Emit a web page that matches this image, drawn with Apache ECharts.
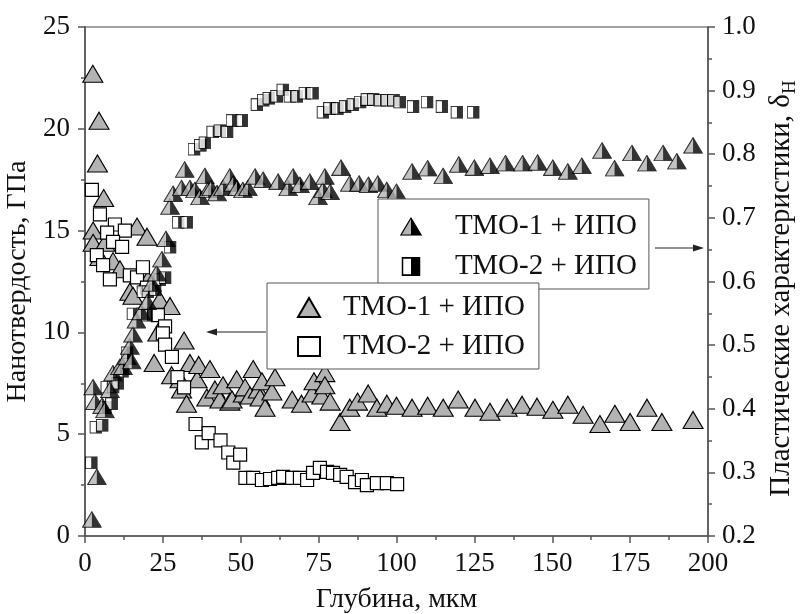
<!DOCTYPE html>
<html>
<head>
<meta charset="utf-8">
<script src="https://cdn.jsdelivr.net/npm/echarts@6/dist/echarts.min.js"></script>
<style>html,body{margin:0;padding:0;background:#fff}#c{width:803px;height:614px}</style>
</head>
<body>
<div id="c"></div>
<script>
// ---- Data ----
// Nanohardness, GPa (left axis) — ТМО-1 + ИПО (grey triangles)
const h1X = [2.5,4.5,4,6,2.6,2.6,6.4,4.8,9,11.2,14.4,15.4,16.7,19.9,20.2,24,27.3,23.4,22.2,31.8,27.8,30.5,31,32.6,33.7,36,36.5,39.1,40.1,41.7,43.3,44.3,46.5,47.2,48.7,50.8,51.4,53,54,55.6,56.2,56.8,57.8,60,61,66.5,69.5,72.9,73.5,76,77,77,78.7,81.9,85,87.5,90.9,93.7,96.9,100,105,110,115,119.8,125.2,130,135.5,140.3,145.1,150.2,155,159.9,165.3,170.1,175,180.4,185.2,195.2];
const h1Y = [22.7,20.4,18.3,16.6,15.0,14.4,14.4,13.7,13.5,13.1,12.0,11.8,15.2,14.7,12.6,11.6,11.3,10.0,8.5,9.6,7.9,7.7,7.2,6.5,8.5,7.7,8.4,6.8,8.2,7.2,6.7,7.4,6.6,6.7,7.7,7.0,7.3,6.9,8.2,7.2,6.8,7.6,6.3,7.1,7.8,6.7,6.5,7.0,7.6,6.9,8.0,7.4,6.6,5.6,6.3,6.6,7.0,6.3,6.5,6.4,6.3,6.4,6.3,6.7,6.3,6.1,6.3,6.45,6.35,6.2,6.45,5.95,5.5,6.0,5.6,6.3,5.6,5.7];
// Nanohardness, GPa (left axis) — ТМО-2 + ИПО (open squares)
const h2X = [2.2,4.8,9.6,12.8,7.1,9.0,11.9,3.8,5.8,8,14.4,16.7,18.6,19.9,23.4,25.7,25,25.7,27.9,29.7,31.8,35.5,37.5,39.7,43.5,46,47.6,49.8,51.5,54,56.8,59.4,62,63.6,66.5,69,71.3,73.2,75.4,77.7,79.6,81.9,84,86.7,88.9,90.5,93.7,96.9,100.2];
const h2Y = [17.0,15.8,15.3,15.0,14.9,14.45,14.2,13.8,13.3,12.6,12.8,12.7,13.2,12.2,10.85,10.3,9.95,9.4,8.8,7.8,7.3,5.5,4.6,5.05,4.7,4.1,3.6,4.0,2.85,2.85,2.75,2.8,2.85,2.9,2.85,2.85,2.75,3.1,3.35,3.15,3.1,3.0,2.9,2.65,2.75,2.5,2.6,2.6,2.55];
// Plasticity δH (right axis) — ТМО-1 + ИПО (half-filled triangles)
const p1X = [2.2,3.8,2.6,3.2,5.5,6.4,8,9,11.2,12.2,13.5,14.4,15,15.4,16.5,18,20,21.5,23,24.7,26,27.3,28.3,31,32,33.7,35.3,36.9,38.5,39.5,40.5,42.4,44.3,46.5,47.6,48.8,50.7,52.3,54.6,57.2,62,65.2,66.8,69,72.2,74.8,76.4,77,78.7,82.2,85,88,91,94,96.9,100,105,110,115,120,125,130,135,140.5,145.3,150.2,155,159.5,166,170,175.6,180.4,185.6,190,195.2];
const p1Y = [0.226,0.293,0.434,0.411,0.405,0.398,0.430,0.456,0.466,0.466,0.482,0.498,0.475,0.517,0.539,0.552,0.568,0.597,0.613,0.635,0.667,0.718,0.738,0.747,0.776,0.747,0.744,0.733,0.766,0.744,0.747,0.739,0.747,0.765,0.754,0.747,0.744,0.747,0.765,0.760,0.757,0.747,0.765,0.752,0.757,0.733,0.744,0.765,0.741,0.779,0.754,0.754,0.752,0.754,0.744,0.741,0.773,0.778,0.766,0.784,0.779,0.782,0.786,0.786,0.787,0.779,0.773,0.782,0.806,0.778,0.802,0.786,0.802,0.789,0.814];
// Plasticity δH (right axis) — ТМО-2 + ИПО (half-filled squares)
const p2X = [2,3.5,5.5,6.5,8.5,7,9,10.5,12,13.5,15.4,18.3,19.9,18.6,20.2,22.5,24,25.7,27.3,29.9,32.7,35,37,38.5,41,43.3,45.6,47.2,50.4,55.2,57.2,59,61.5,63.5,65.8,68,70.6,73,76.4,78.5,81,83.5,86,88.3,90.5,92.5,94.7,96.9,99,101,105.3,109.8,114.6,119.4,124.6];
const p2Y = [0.315,0.371,0.374,0.402,0.408,0.434,0.434,0.440,0.459,0.488,0.549,0.549,0.547,0.584,0.584,0.587,0.603,0.606,0.654,0.693,0.693,0.808,0.814,0.818,0.835,0.837,0.835,0.853,0.853,0.878,0.885,0.888,0.891,0.901,0.891,0.891,0.896,0.896,0.866,0.872,0.872,0.875,0.878,0.882,0.886,0.886,0.885,0.885,0.885,0.882,0.875,0.882,0.875,0.866,0.866];

const seriesNames = ['ТМО-1 + ИПО', 'ТМО-2 + ИПО'];
const xTitle = 'Глубина, мкм';
const yLeftTitle = 'Нанотвердость, ГПа';
const yRightTitle = 'Пластические характеристики, δ';

// ---- Build ----
const zip = (xs, ys) => xs.map((x, i) => [x, ys[i]]);
const FONT = 'Liberation Serif';
const GREY = '#b3b3b3';
const svgUri = s => 'image://data:image/svg+xml;charset=utf-8,' + encodeURIComponent(s);
const halfTri = svgUri("<svg xmlns='http://www.w3.org/2000/svg' width='40' height='34' viewBox='0 0 20 17'><polygon points='10,0.8 19.3,16.3 0.7,16.3' fill='" + GREY + "' stroke='#000' stroke-width='1.1' stroke-linejoin='miter'/><polygon points='10,0.8 19.3,16.3 10,16.3' fill='#000'/></svg>");
const halfSq = svgUri("<svg xmlns='http://www.w3.org/2000/svg' width='26' height='26' viewBox='0 0 13 13'><rect x='0.6' y='0.6' width='11.8' height='11.8' fill='#fff' stroke='#000' stroke-width='1.2'/><rect x='6.5' y='0.6' width='5.9' height='11.8' fill='#000'/></svg>");

const chart = echarts.init(document.getElementById('c'), null, {renderer: 'canvas'});
const axisLineStyle = {color: '#555', width: 1.5};
const labelStyle = {fontFamily: FONT, fontSize: 27, color: '#111'};
const TITLE_FS = 28;
const LEGEND_FS = 29;

const option = {
  animation: false,
  backgroundColor: '#fff',
  grid: {left: 85, right: 95, top: 27, bottom: 78, show: true, borderColor: '#444', borderWidth: 1.2, outerBoundsMode: 'none', containLabel: false},
  xAxis: {
    type: 'value', min: 0, max: 200, interval: 25,
    name: xTitle, nameLocation: 'middle', nameGap: 50,
    nameTextStyle: {fontFamily: FONT, fontSize: TITLE_FS, color: '#111'},
    axisLine: {show: true, onZero: false, lineStyle: axisLineStyle},
    axisTick: {show: true, inside: false, length: 7, lineStyle: axisLineStyle},
    minorTick: {show: true, splitNumber: 2, length: 4, lineStyle: {color: '#555', width: 1.5}},
    splitLine: {show: false},
    axisLabel: Object.assign({margin: 14}, labelStyle)
  },
  yAxis: [
    {
      type: 'value', min: 0, max: 25, interval: 5, position: 'left',
      name: yLeftTitle, nameLocation: 'middle', nameGap: 38, nameRotate: 90,
      nameTextStyle: {fontFamily: FONT, fontSize: TITLE_FS, color: '#111'},
      axisLine: {show: true, lineStyle: axisLineStyle},
      axisTick: {show: true, inside: false, length: 7, lineStyle: axisLineStyle},
      minorTick: {show: true, splitNumber: 2, length: 4, lineStyle: {color: '#555', width: 1.5}},
      splitLine: {show: false},
      axisLabel: Object.assign({margin: 15}, labelStyle)
    },
    {
      type: 'value', min: 0.2, max: 1.0, interval: 0.1, position: 'right',
      name: '{a|' + yRightTitle + '}{b|H}', nameLocation: 'middle', nameGap: 54, nameRotate: 90,
      nameTextStyle: {fontFamily: FONT, fontSize: 29, color: '#111', padding: [0, 14, 0, 0],
        rich: {a: {fontFamily: FONT, fontSize: 29, color: '#111', lineHeight: 36},
               b: {fontFamily: FONT, fontSize: 19, color: '#111', lineHeight: 17, verticalAlign: 'bottom'}}},
      axisLine: {show: true, lineStyle: axisLineStyle},
      axisTick: {show: true, inside: false, length: 7, lineStyle: axisLineStyle},
      minorTick: {show: true, splitNumber: 2, length: 4, lineStyle: {color: '#555', width: 1.5}},
      splitLine: {show: false},
      axisLabel: Object.assign({margin: 14, formatter: v => v.toFixed(1)}, labelStyle)
    }
  ],
  legend: [
    {
      orient: 'vertical', left: 378, top: 199,
      padding: [13, 12, 8, 22], itemGap: 11, itemWidth: 22, itemHeight: 19,
      backgroundColor: '#fff', borderColor: '#555', borderWidth: 1, borderRadius: 0,
      textStyle: {fontFamily: FONT, fontSize: LEGEND_FS, color: '#111', lineHeight: 26, padding: [0, 0, 0, 28]},
      selectedMode: false,
      data: [{name: seriesNames[0], icon: halfTri}, {name: seriesNames[1], icon: halfSq}]
    },
    {
      orient: 'vertical', left: 267, top: 283,
      padding: [10, 14, 8, 30], itemGap: 10, itemWidth: 22, itemHeight: 19,
      backgroundColor: '#fff', borderColor: '#555', borderWidth: 1, borderRadius: 0,
      textStyle: {fontFamily: FONT, fontSize: LEGEND_FS, color: '#111', lineHeight: 26, padding: [0, 0, 0, 18]},
      selectedMode: false,
      data: [{name: seriesNames[0], icon: 'triangle'}, {name: seriesNames[1], icon: 'rect'}]
    }
  ],
  graphic: [
    {type: 'line', shape: {x1: 266, y1: 332, x2: 214, y2: 332}, style: {stroke: '#222', lineWidth: 1.2}, z: 100},
    {type: 'polygon', shape: {points: [[206, 332], [217, 328.5], [217, 335.5]]}, style: {fill: '#222'}, z: 100},
    {type: 'line', shape: {x1: 655, y1: 248, x2: 695, y2: 248}, style: {stroke: '#222', lineWidth: 1.2}, z: 100},
    {type: 'polygon', shape: {points: [[704, 248], [693, 244.5], [693, 251.5]]}, style: {fill: '#222'}, z: 100}
  ],
  series: [
    {
      name: seriesNames[0], type: 'scatter', yAxisIndex: 0, data: zip(h1X, h1Y),
      symbol: 'triangle', symbolSize: [20, 17],
      itemStyle: {color: GREY, borderColor: '#000', borderWidth: 1.1, opacity: 1},
      emphasis: {disabled: true}, z: 2
    },
    {
      name: seriesNames[1], type: 'scatter', yAxisIndex: 0, data: zip(h2X, h2Y),
      symbol: 'rect', symbolSize: 13,
      itemStyle: {color: '#fff', borderColor: '#000', borderWidth: 1.2, opacity: 1},
      emphasis: {disabled: true}, z: 2
    },
    {
      name: seriesNames[1], type: 'scatter', yAxisIndex: 1, data: zip(p2X, p2Y),
      symbol: halfSq, symbolSize: 13,
      emphasis: {disabled: true}, z: 3
    },
    {
      name: seriesNames[0], type: 'scatter', yAxisIndex: 1, data: zip(p1X, p1Y),
      symbol: halfTri, symbolSize: [20, 17],
      emphasis: {disabled: true}, z: 3
    }
  ]
};
chart.setOption(option);
</script>
</body>
</html>
